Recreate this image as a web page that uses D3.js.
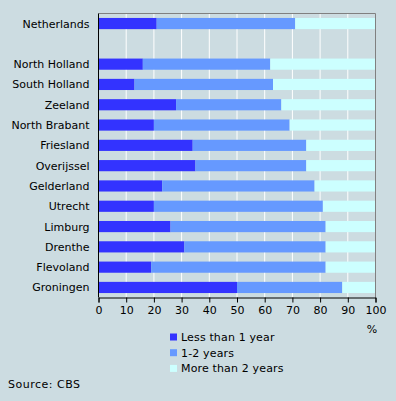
<!DOCTYPE html>
<html><head><meta charset="utf-8">
<script src="https://cdn.jsdelivr.net/npm/d3@7"></script>
<style>
html,body{margin:0;padding:0;background:#CCDCE1;}
svg{display:block;font-family:"DejaVu Sans",Verdana,sans-serif;}
</style></head>
<body>
<svg id="c" width="396" height="401"></svg>
<script>
const categories = ["Netherlands","","North Holland","South Holland","Zeeland","North Brabant","Friesland","Overijssel","Gelderland","Utrecht","Limburg","Drenthe","Flevoland","Groningen"];
const lessThan1 = [21,null,16,13,28,20,34,35,23,20,26,31,19,50];
const oneToTwo  = [50,null,46,50,38,49,41,40,55,61,56,51,63,38];
const moreThan2 = [29,null,38,37,34,31,25,25,22,19,18,18,18,12];
const seriesNames = ["Less than 1 year","1-2 years","More than 2 years"];
const colors = ["#3333FF","#6699FF","#CCFFFF"];
const xTicks = [0,10,20,30,40,50,60,70,80,90,100];

const svg = d3.select("#c");
const L = 98.5, R = 375.5, T = 13.5, B = 297.5;
const x = d3.scaleLinear().domain([0,100]).range([L,R]);
const y = d3.scaleBand().domain(d3.range(categories.length)).range([T,B]).paddingInner(0.45).paddingOuter(0.22);

// gridlines
svg.append("g").selectAll("line").data(xTicks.slice(1,-1)).join("line")
  .attr("x1",d=>x(d)).attr("x2",d=>x(d)).attr("y1",T).attr("y2",B)
  .attr("stroke","#fff").attr("stroke-width",1);

// bars
const series = [lessThan1, oneToTwo, moreThan2];
const rows = categories.map((c,i)=>({i, vals: series.map(s=>s[i])})).filter(r=>r.vals[0]!=null);
const g = svg.append("g");
rows.forEach(r=>{
  let acc = 0;
  r.vals.forEach((v,k)=>{
    g.append("rect").attr("x",x(acc)).attr("width",x(acc+v)-x(acc))
      .attr("y",y(r.i)).attr("height",y.bandwidth()).attr("fill",colors[k]);
    acc += v;
  });
});

// frame: top and right gray
svg.append("path").attr("d",`M${L},${T}H${R}V${B}`).attr("fill","none").attr("stroke","#808080").attr("stroke-width",1);
// left axis
svg.append("line").attr("x1",L).attr("x2",L).attr("y1",T).attr("y2",B).attr("stroke","#000");

// bottom axis
const ax = svg.append("g").attr("transform",`translate(0,${B})`)
  .call(d3.axisBottom(x).tickValues(xTicks).tickSize(5).tickPadding(4).tickFormat(d3.format("d")));
ax.select(".domain").attr("stroke","#000");
ax.selectAll(".tick line").attr("stroke","#000");
ax.selectAll("text").attr("font-size",11).attr("fill","#000").attr("font-family","DejaVu Sans, Verdana, sans-serif");

svg.append("text").attr("x",372).attr("y",333).attr("text-anchor","middle").attr("font-size",11).text("%");

// category labels
svg.append("g").selectAll("text").data(categories.map((c,i)=>({c,i})).filter(d=>d.c)).join("text")
  .attr("x",89.5).attr("y",d=>y(d.i)+y.bandwidth()/2).attr("dy","0.36em")
  .attr("text-anchor","end").attr("font-size",11).attr("fill","#000").text(d=>d.c);

// legend
const lg = svg.append("g");
seriesNames.forEach((n,k)=>{
  const yy = 337 + k*15.7;
  lg.append("rect").attr("x",170).attr("y",yy-3.5).attr("width",7).attr("height",7).attr("fill",colors[k]);
  lg.append("text").attr("x",181).attr("y",yy).attr("dy","0.36em").attr("font-size",11).attr("letter-spacing",0.15).text(n);
});

svg.append("text").attr("x",8).attr("y",388).attr("font-size",11).attr("letter-spacing",0.5).text("Source: CBS");
</script>
</body></html>
